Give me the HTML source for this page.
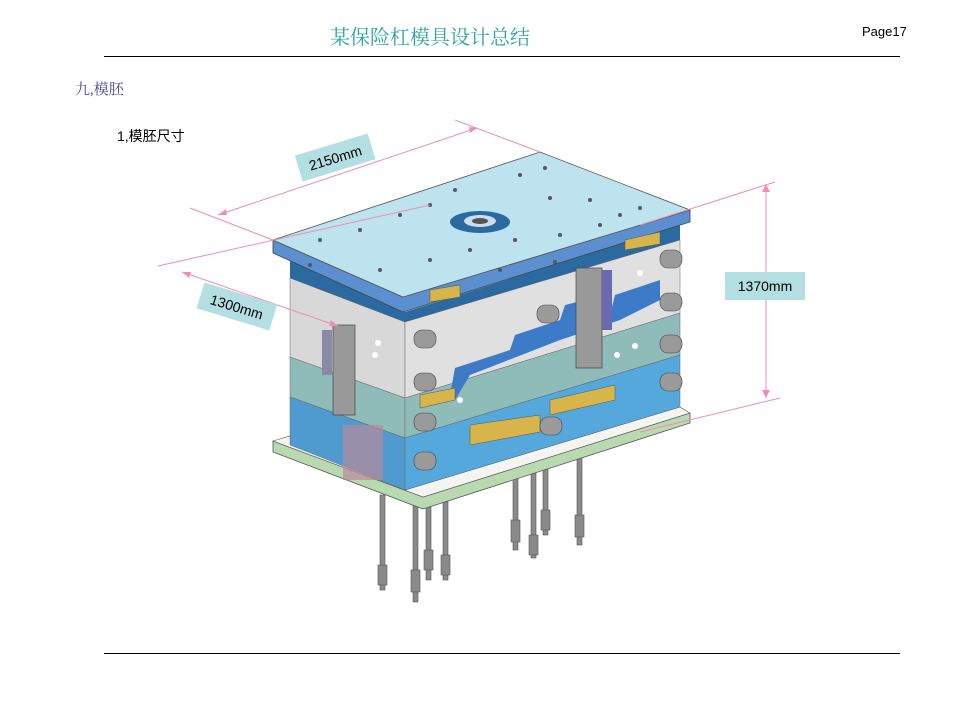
<!DOCTYPE html>
<html><head><meta charset="utf-8"><style>
body{margin:0;width:956px;height:717px;background:#fff;position:relative;overflow:hidden;font-family:"Liberation Sans","Noto Sans CJK SC",sans-serif}
.t{position:absolute;white-space:nowrap}
</style></head><body>
<div class="t" style="left:330px;top:21px;font-size:20px;color:#2aa4a6;font-family:'Liberation Serif','Noto Serif CJK SC',serif">某保险杠模具设计总结</div>
<div class="t" style="left:862px;top:24px;font-size:13px;color:#000">Page17</div>
<div style="position:absolute;left:104px;top:56px;width:796px;height:1px;background:#000"></div>
<div style="position:absolute;left:104px;top:653px;width:796px;height:1px;background:#000"></div>
<div class="t" style="left:75px;top:78px;font-size:15px;color:#4a4a9a;font-family:'Liberation Serif','Noto Serif CJK SC',serif">九,模胚</div>
<div class="t" style="left:117px;top:126px;font-size:14px;color:#000">1,模胚尺寸</div>
<svg width="956" height="717" style="position:absolute;left:0;top:0">
<!-- pins -->
<g fill="#8a8a8a" stroke="#555" stroke-width="0.6">
<rect x="380" y="495" width="5" height="95"/><rect x="378" y="565" width="9" height="20"/>
<rect x="413" y="505" width="5" height="97"/><rect x="411" y="570" width="9" height="22"/>
<rect x="426" y="500" width="5" height="80"/><rect x="424" y="550" width="9" height="20"/>
<rect x="443" y="495" width="5" height="85"/><rect x="441" y="555" width="9" height="20"/>
<rect x="513" y="470" width="5" height="80"/><rect x="511" y="520" width="9" height="22"/>
<rect x="531" y="470" width="5" height="88"/><rect x="529" y="535" width="9" height="20"/>
<rect x="543" y="465" width="5" height="70"/><rect x="541" y="510" width="9" height="20"/>
<rect x="577" y="455" width="5" height="90"/><rect x="575" y="515" width="9" height="22"/>
</g>
<!-- bottom plate -->
<polygon points="273,441 423,497 690,413 690,423 423,509 273,452" fill="#b9d9b0" stroke="#555" stroke-width="0.8"/>
<polygon points="273,441 290,436 405,490 680,407 690,413 423,497" fill="#f4f4f0" stroke="#555" stroke-width="0.6"/>
<!-- left face -->
<polygon points="290,258 405,312 405,490 290,437" fill="#2a6aa0"/>
<polygon points="290,278 405,322 405,398 290,357" fill="#d8d8d8" stroke="#666" stroke-width="0.5"/>
<polygon points="290,357 405,398 405,438 290,397" fill="#8fbcb8" stroke="#666" stroke-width="0.5"/>
<polygon points="290,397 405,438 405,490 290,445" fill="#4f9bd0" stroke="#666" stroke-width="0.5"/>
<!-- right face -->
<polygon points="405,312 680,225 680,407 405,490" fill="#2a6aa0"/>
<polygon points="405,322 680,240 680,313 405,398" fill="#e0e0e0" stroke="#666" stroke-width="0.5"/>
<polygon points="405,398 680,313 680,355 405,438" fill="#8fbcb8" stroke="#666" stroke-width="0.5"/>
<polygon points="405,438 680,355 680,407 405,490" fill="#55a8dc" stroke="#666" stroke-width="0.5"/>
<!-- blue stepped insert -->
<polygon points="450,395 455,368 510,350 515,335 560,320 565,305 585,300 610,315 615,295 660,280 660,300 620,320 560,340 470,375 455,400" fill="#3c7bc8"/>
<!-- top plate -->
<polygon points="273,240 403,297 690,210 690,222 403,312 273,253" fill="#5b8fcf" stroke="#444" stroke-width="0.8"/>
<polygon points="273,240 540,152 690,210 403,297" fill="#bde3ee" stroke="#555" stroke-width="0.8"/>
<ellipse cx="480" cy="222" rx="30" ry="11" fill="#2a6aa0"/><ellipse cx="480" cy="221" rx="16" ry="6" fill="#cde"/><ellipse cx="480" cy="221" rx="8" ry="3" fill="#555"/>
<g fill="#556">
<circle cx="320" cy="240" r="2"/><circle cx="360" cy="230" r="2"/><circle cx="400" cy="215" r="2"/><circle cx="430" cy="205" r="2"/><circle cx="455" cy="190" r="2"/><circle cx="520" cy="175" r="2"/><circle cx="550" cy="198" r="2"/><circle cx="590" cy="200" r="2"/><circle cx="620" cy="215" r="2"/><circle cx="640" cy="208" r="2"/><circle cx="430" cy="260" r="2"/><circle cx="470" cy="250" r="2"/><circle cx="515" cy="240" r="2"/><circle cx="560" cy="235" r="2"/><circle cx="600" cy="225" r="2"/><circle cx="380" cy="270" r="2"/><circle cx="310" cy="265" r="2"/><circle cx="545" cy="168" r="2"/><circle cx="555" cy="262" r="2"/><circle cx="500" cy="270" r="2"/>
</g>
<!-- slides -->
<rect x="576" y="268" width="26" height="100" fill="#999" stroke="#444" stroke-width="0.7"/>
<rect x="602" y="270" width="10" height="60" fill="#6a6ab0"/>
<rect x="333" y="325" width="22" height="90" fill="#999" stroke="#444" stroke-width="0.7"/>
<rect x="322" y="330" width="10" height="45" fill="#8a8aa8"/>
<rect x="343" y="425" width="40" height="55" fill="#b88a9a" opacity="0.7"/>
<!-- yellow blocks -->
<g fill="#d8b54a" stroke="#555" stroke-width="0.5">
<polygon points="470,425 540,415 540,432 470,445"/><polygon points="550,400 615,385 615,400 550,415"/>
<polygon points="420,395 455,388 455,400 420,408"/><polygon points="430,290 460,285 460,297 430,302"/>
<polygon points="625,240 660,232 660,244 625,250"/>
</g>
<!-- cylinders -->
<g fill="#9a9a9a" stroke="#444" stroke-width="0.6">
<rect x="660" y="250" width="22" height="18" rx="8"/><rect x="660" y="293" width="22" height="18" rx="8"/><rect x="660" y="335" width="22" height="18" rx="8"/><rect x="660" y="373" width="22" height="18" rx="8"/>
<rect x="414" y="330" width="22" height="18" rx="8"/><rect x="414" y="373" width="22" height="18" rx="8"/><rect x="414" y="413" width="22" height="18" rx="8"/><rect x="414" y="452" width="22" height="18" rx="8"/>
<rect x="537" y="305" width="22" height="18" rx="8"/><rect x="540" y="417" width="22" height="18" rx="8"/>
</g>
<g fill="#fff"><circle cx="375" cy="355" r="3"/><circle cx="378" cy="343" r="3"/><circle cx="640" cy="273" r="3"/><circle cx="635" cy="346" r="3"/><circle cx="460" cy="400" r="3"/><circle cx="617" cy="355" r="3"/></g>
<!-- dimension lines -->
<g stroke="#f08cb8" stroke-width="1" fill="none">
<line x1="190" y1="208" x2="273" y2="240"/><line x1="455" y1="120" x2="540" y2="152"/>
<line x1="218" y1="215" x2="477" y2="128"/>
<line x1="158" y1="266" x2="430" y2="205"/><line x1="182" y1="272" x2="338" y2="326"/>
<line x1="640" y1="225" x2="775" y2="182"/><line x1="640" y1="432" x2="780" y2="398"/>
<line x1="766" y1="184" x2="766" y2="398"/>
</g>
<g fill="#f08cb8">
<polygon points="218,215 226,209 227,215"/><polygon points="477,128 469,127 470,133"/>
<polygon points="182,272 191,272 189,278"/><polygon points="338,326 329,326 331,320"/>
<polygon points="766,184 762,192 770,192"/><polygon points="766,398 762,390 770,390"/>
</g>
<g transform="translate(335,157) rotate(-17)"><rect x="-38" y="-13" width="76" height="27" fill="#b3dfe2"/><text x="0" y="6" font-size="14" text-anchor="middle" font-family="Liberation Sans,sans-serif">2150mm</text></g>
<g transform="translate(237,306) rotate(17)"><rect x="-38" y="-13" width="76" height="27" fill="#b3dfe2"/><text x="0" y="6" font-size="14" text-anchor="middle" font-family="Liberation Sans,sans-serif">1300mm</text></g>
<rect x="725" y="272" width="80" height="28" fill="#b3dfe2"/><text x="765" y="291" font-size="14" text-anchor="middle" font-family="Liberation Sans,sans-serif">1370mm</text>
</svg>
</body></html>
